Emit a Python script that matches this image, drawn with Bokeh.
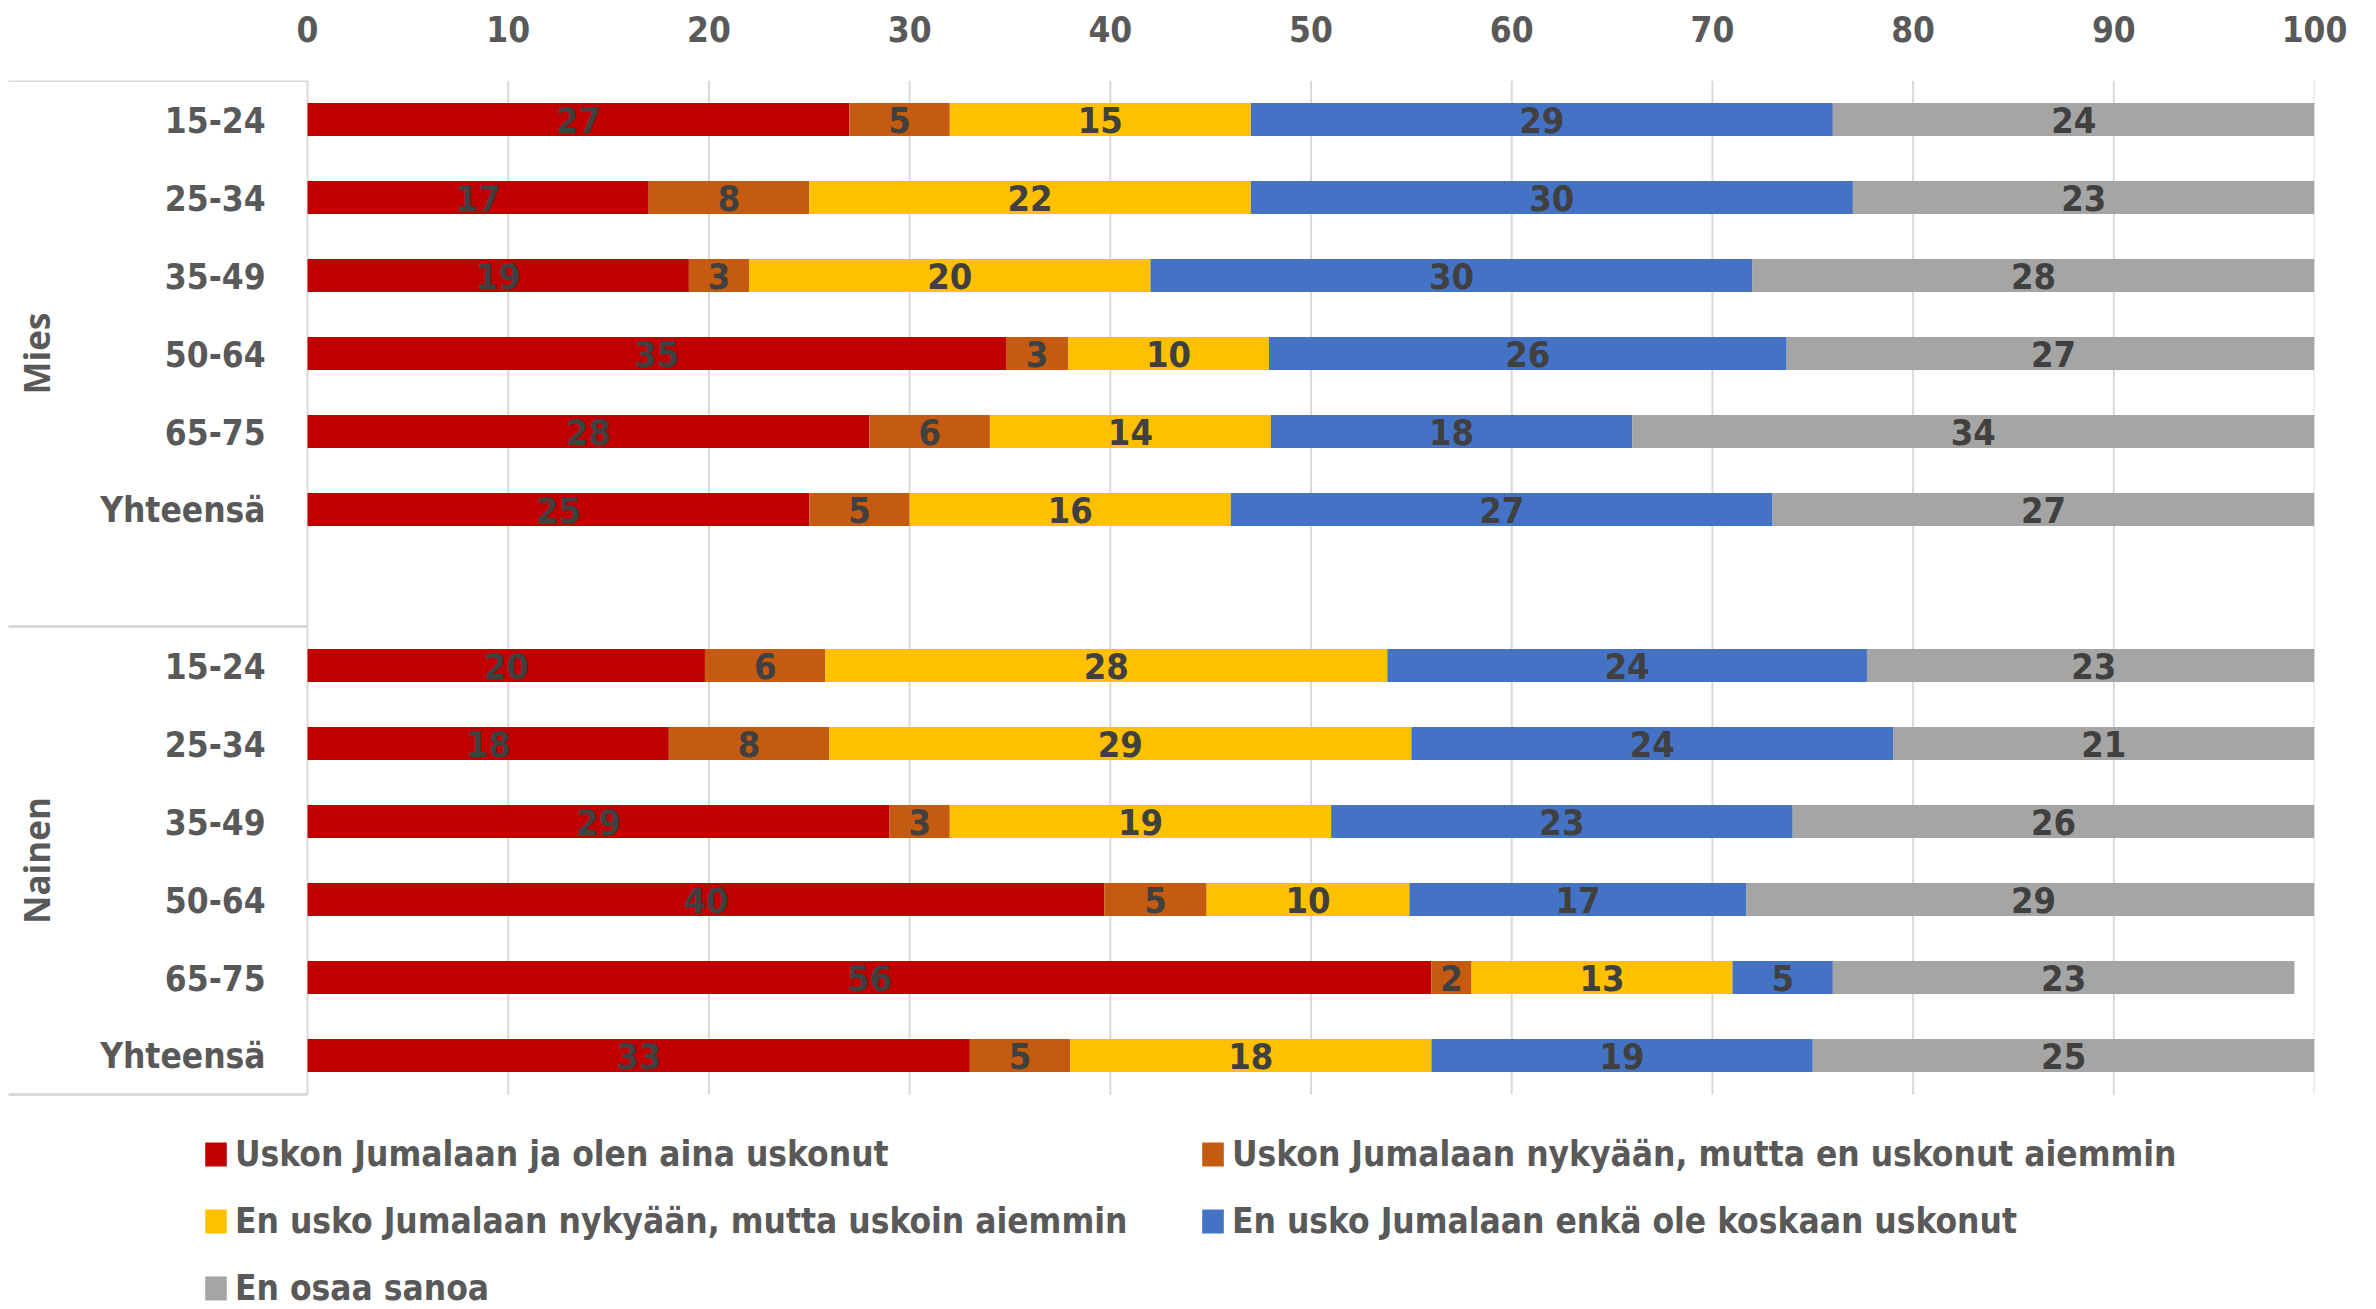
import numpy as np
from math import pi
from bokeh.plotting import figure
from bokeh.models import (ColumnDataSource, Range1d, FixedTicker, Legend, LegendItem)
from bokeh.core.properties import value
from bokeh.embed import file_html
from bokeh.resources import INLINE

# ---------------- data ----------------
groups = ["Mies", "Nainen"]
ages = ["15-24", "25-34", "35-49", "50-64", "65-75", "Yhteensä"]
series = [
    "Uskon Jumalaan ja olen aina uskonut",
    "Uskon Jumalaan nykyään, mutta en uskonut aiemmin",
    "En usko Jumalaan nykyään, mutta uskoin aiemmin",
    "En usko Jumalaan enkä ole koskaan uskonut",
    "En osaa sanoa",
]
colors = ["#C00000", "#C55A11", "#FFC000", "#4472C4", "#A5A5A5"]

mies_always = [27, 17, 19, 34.8, 28, 25]
mies_now = [5, 8, 3, 3.1, 6, 5]
mies_before = [15, 22, 20, 10.0, 14, 16]
mies_never = [29, 30, 30, 25.8, 18, 27]
mies_dontknow = [24, 23, 28, 26.6, 34, 27]

nainen_always = [19.8, 18, 29, 39.7, 56, 33]
nainen_now = [6.0, 8, 3, 5.1, 2, 5]
nainen_before = [28.0, 29, 19, 10.1, 13, 18]
nainen_never = [23.9, 24, 23, 16.8, 5, 19]
nainen_dontknow = [22.6, 21, 26, 28.6, 23, 25]

x_ticks = [0, 10, 20, 30, 40, 50, 60, 70, 80, 90, 100]

# ---------------- layout ----------------
FONT = "'Liberation Sans Narrow', 'DejaVu Sans Condensed', sans-serif"
AXIS_COLOR = "#595959"
LABEL_COLOR = "#404040"
GRID = "#D9D9D9"
W, H = 2376, 1309
TOP = 80           # frame top (px)
SLOT = 78.0        # px per category slot
X_LEFT = -15.3     # room for the category labels inside the frame
SEP_LEFT = -14.9   # where the group separator lines start
Y_BOTTOM = -0.5 + (H - TOP) / SLOT   # frame extends down to hold the legend

mies_vals = [mies_always, mies_now, mies_before, mies_never, mies_dontknow]
nainen_vals = [nainen_always, nainen_now, nainen_before, nainen_never, nainen_dontknow]

# slot positions: Mies rows 0..5, empty slot 6, Nainen rows 7..12
y_mies = list(range(0, 6))
y_nainen = list(range(7, 13))
ys = y_mies + y_nainen
data = np.array([m + n for m, n in zip(mies_vals, nainen_vals)], dtype=float)  # 5 x 12
right = np.cumsum(data, axis=0)
left = right - data

p = figure(width=W, height=H, output_backend="svg", toolbar_location=None,
           x_range=Range1d(X_LEFT, 100), y_range=Range1d(Y_BOTTOM, -0.5),
           x_axis_location="above", y_axis_location=None,
           min_border_left=0, min_border_right=62, min_border_top=TOP, min_border_bottom=0)
p.outline_line_color = None
p.background_fill_color = "white"
p.border_fill_color = "white"
p.xgrid.grid_line_color = None
p.ygrid.grid_line_color = None

# vertical grid lines and group separators
p.segment(x0=x_ticks, x1=x_ticks, y0=[-0.5] * len(x_ticks), y1=[12.5] * len(x_ticks),
          line_color=GRID, line_width=2)
sep_y = [-0.5, 6.5, 12.5]
p.segment(x0=[SEP_LEFT] * 3, x1=[0] * 3, y0=sep_y, y1=sep_y, line_color=GRID, line_width=3)

renderers = []
for i, name in enumerate(series):
    src = ColumnDataSource(dict(
        y=ys, left=left[i], right=right[i],
        xm=(left[i] + right[i]) / 2,
        lab=[f"{v:.0f}" for v in data[i]],
    ))
    r = p.hbar(y="y", left="left", right="right", height=0.42, source=src,
               fill_color=colors[i], line_color=None)
    renderers.append(r)
    p.text(x="xm", y="y", text="lab", source=src, text_align="center",
           text_baseline="middle", text_font=value(FONT), text_font_size="36px",
           text_font_style="bold", text_color=LABEL_COLOR)

# category labels
cat_src = ColumnDataSource(dict(x=[0] * len(ys), y=ys, t=ages + ages))
p.text(x="x", y="y", text="t", source=cat_src, x_offset=-42, text_align="right",
       text_baseline="middle", text_font=value(FONT), text_font_size="35px",
       text_font_style="bold", text_color=AXIS_COLOR)

# group labels (rotated)
grp_src = ColumnDataSource(dict(x=[X_LEFT] * 2, y=[3.0, 9.5], t=groups))
p.text(x="x", y="y", text="t", source=grp_src, x_offset=36, angle=pi / 2,
       text_align="center", text_baseline="middle", text_font=value("Open Sans"),
       text_font_size="35px", text_font_style="bold", text_color=AXIS_COLOR)

# x axis (top)
xa = p.xaxis[0]
xa.ticker = FixedTicker(ticks=x_ticks)
xa.axis_line_color = None
xa.major_tick_line_color = None
xa.minor_tick_line_color = None
xa.major_tick_out = 0
xa.major_tick_in = 0
xa.major_label_standoff = 39
xa.major_label_text_font = FONT
xa.major_label_text_font_size = "35px"
xa.major_label_text_font_style = "bold"
xa.major_label_text_color = AXIS_COLOR

# legends (two columns), inside the lower part of the frame
items = [LegendItem(label=s, renderers=[r]) for s, r in zip(series, renderers)]
common = dict(glyph_width=27, glyph_height=30, label_standoff=6, spacing=23, padding=0,
              margin=0, border_line_color=None, background_fill_alpha=0,
              label_text_font=FONT, label_text_font_size="35px", label_text_font_style="bold",
              label_text_color=AXIS_COLOR, label_height=44, label_text_baseline="middle")
leg_a = Legend(items=[items[0], items[2], items[4]], location=(202, -1), **common)
leg_b = Legend(items=[items[1], items[3]], location=(1199, 66), **common)
p.add_layout(leg_a)
p.add_layout(leg_b)

open("out.html", "w").write(file_html(p, INLINE))
